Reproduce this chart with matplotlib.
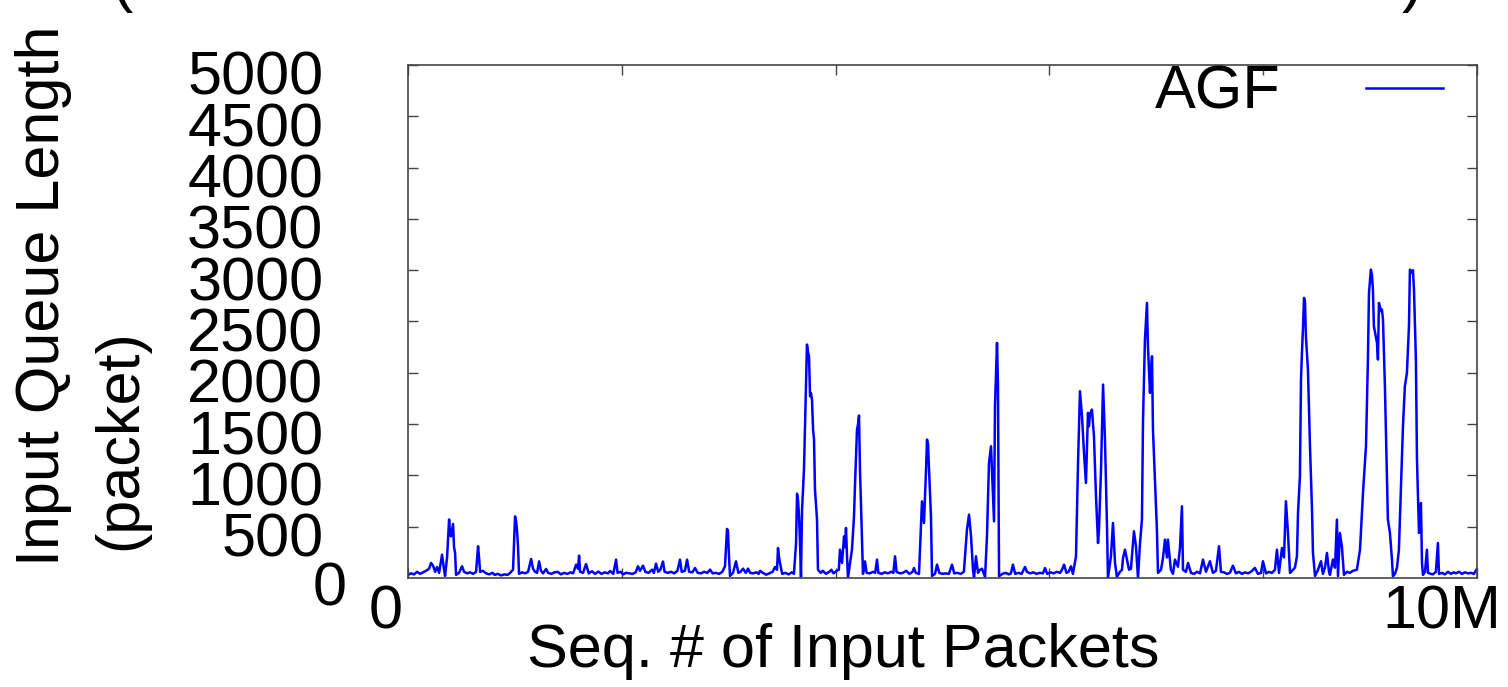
import matplotlib.pyplot as plt
from matplotlib.ticker import MultipleLocator
from matplotlib.transforms import ScaledTranslation

# sequence number of the input packet (millions) and input queue length (packets)
seq_m = [
    0.000, 0.028, 0.056, 0.084, 0.112, 0.140, 0.168, 0.196, 0.215, 0.234, 0.253, 0.271, 0.290,
    0.318, 0.337, 0.346, 0.365, 0.384, 0.393, 0.402, 0.421, 0.430, 0.440, 0.449, 0.477, 0.505,
    0.524, 0.552, 0.580, 0.608, 0.636, 0.655, 0.664, 0.674, 0.700, 0.730, 0.760, 0.790, 0.810,
    0.840, 0.870, 0.900, 0.930, 0.950, 0.982, 1.001, 1.010, 1.020, 1.029, 1.038, 1.066, 1.095,
    1.123, 1.151, 1.169, 1.188, 1.207, 1.226, 1.244, 1.263, 1.291, 1.310, 1.340, 1.370, 1.400,
    1.430, 1.460, 1.490, 1.520, 1.544, 1.572, 1.590, 1.600, 1.609, 1.637,
    1.665, 1.690, 1.721, 1.750, 1.780, 1.810, 1.840, 1.870, 1.890, 1.920, 1.946, 1.960, 1.990,
    2.010, 2.040, 2.070, 2.100, 2.130, 2.151, 2.170, 2.198, 2.220, 2.250, 2.283, 2.300, 2.320,
    2.340, 2.360, 2.385, 2.400, 2.430, 2.460, 2.490, 2.520, 2.544, 2.560, 2.590, 2.610, 2.630,
    2.660, 2.685, 2.710, 2.740, 2.770, 2.800, 2.825, 2.850, 2.880, 2.910, 2.940, 2.965, 2.975,
    2.984, 2.993, 3.003, 3.012, 3.040, 3.068, 3.090, 3.110, 3.134, 3.160, 3.181, 3.200, 3.230,
    3.260, 3.280, 3.293, 3.320,
    3.350, 3.380, 3.410, 3.433, 3.452, 3.461, 3.471, 3.480, 3.500, 3.530, 3.560, 3.590, 3.610,
    3.630, 3.639, 3.648, 3.658, 3.667, 3.676, 3.686, 3.704, 3.723, 3.732, 3.742, 3.751, 3.761,
    3.770, 3.779, 3.789, 3.798, 3.807, 3.826, 3.835, 3.860, 3.880, 3.910, 3.940, 3.960, 3.980,
    4.010, 4.030, 4.041, 4.060, 4.079, 4.088, 4.097, 4.107, 4.116, 4.135, 4.153, 4.172, 4.181,
    4.200, 4.210, 4.219, 4.228, 4.247, 4.256, 4.275, 4.290, 4.320, 4.350, 4.370, 4.387, 4.400,
    4.430, 4.460, 4.490, 4.520, 4.540, 4.556, 4.570, 4.600, 4.630, 4.660, 4.690, 4.720, 4.733,
    4.750, 4.780, 4.808, 4.827, 4.846, 4.855, 4.865, 4.874, 4.892, 4.902, 4.930, 4.949, 4.970,
    5.000,
    5.030, 5.060, 5.089, 5.110, 5.140, 5.170, 5.200, 5.229, 5.248, 5.267, 5.285, 5.295, 5.313,
    5.332, 5.351, 5.370, 5.398, 5.416, 5.435, 5.454, 5.463, 5.482, 5.491, 5.510, 5.519, 5.529,
    5.560, 5.590, 5.620, 5.640, 5.659, 5.680, 5.710, 5.740, 5.772, 5.790, 5.820, 5.850, 5.880,
    5.910, 5.940, 5.959, 5.980, 6.010, 6.040, 6.070, 6.100, 6.118, 6.137, 6.160, 6.180, 6.202,
    6.220, 6.249, 6.268, 6.286, 6.305, 6.324, 6.342, 6.361, 6.370, 6.380, 6.398, 6.417, 6.436,
    6.455, 6.464, 6.483, 6.502, 6.520, 6.539, 6.548, 6.576, 6.595, 6.614, 6.632, 6.660, 6.679,
    6.689,
    6.707, 6.726, 6.745, 6.763, 6.791, 6.810, 6.829, 6.848, 6.866, 6.876, 6.894, 6.913, 6.922,
    6.941, 6.950, 6.960, 6.969, 6.988, 7.006, 7.016, 7.044, 7.063, 7.081, 7.100, 7.109, 7.137,
    7.156, 7.175, 7.203, 7.222, 7.240, 7.250, 7.278, 7.297, 7.325, 7.353, 7.381, 7.409, 7.437,
    7.465, 7.502, 7.530, 7.558, 7.587, 7.605, 7.633, 7.661, 7.689, 7.717, 7.745, 7.773, 7.802,
    7.830, 7.858, 7.886, 7.923, 7.951, 7.980, 7.998, 8.026, 8.054, 8.082, 8.110, 8.129, 8.148,
    8.176, 8.195, 8.213, 8.232, 8.251, 8.279, 8.297, 8.316, 8.326, 8.344, 8.354, 8.363, 8.372,
    8.382, 8.391, 8.400, 8.419, 8.438, 8.457, 8.466, 8.485,
    8.513, 8.541, 8.559, 8.578, 8.597, 8.616, 8.625, 8.653, 8.672, 8.690, 8.700, 8.718, 8.737,
    8.756, 8.784, 8.812, 8.840, 8.877, 8.906, 8.934, 8.962, 8.980, 8.990, 9.008, 9.018, 9.027,
    9.036, 9.055, 9.065, 9.074, 9.083, 9.102, 9.111, 9.121, 9.139, 9.158, 9.167, 9.186, 9.205,
    9.214, 9.233, 9.252, 9.270, 9.289, 9.308, 9.326, 9.345, 9.364, 9.373, 9.392, 9.401, 9.411,
    9.429, 9.439, 9.458, 9.476, 9.486, 9.495, 9.514, 9.532, 9.542, 9.570, 9.588, 9.616, 9.635,
    9.645, 9.673, 9.701, 9.729, 9.757, 9.785, 9.804, 9.832, 9.860, 9.888, 9.916, 9.944, 9.972,
    10.000,
]
queue_len = [
    30, 45, 35, 60, 40, 55, 70, 90, 146, 120, 60, 107, 50,
    227, 80, 20, 200, 570, 420, 406, 527, 300, 244, 30, 50, 114,
    60, 45, 55, 40, 60, 309, 200, 60, 70, 45, 35, 50, 30,
    40, 25, 35, 30, 45, 80, 600, 560, 455, 300, 40, 55, 45,
    60, 185, 90, 60, 50, 162, 70, 45, 88, 50, 40, 55, 60,
    35, 50, 40, 55, 45, 130, 90, 218, 60, 50,
    136, 45, 65, 40, 62, 40, 55, 45, 68, 40, 179, 50, 60,
    35, 50, 45, 40, 55, 114, 70, 120, 60, 50, 81, 50, 140,
    60, 80, 160, 60, 50, 60, 45, 70, 179, 60, 70, 179, 60,
    55, 97, 50, 45, 60, 50, 81, 45, 50, 40, 60, 114, 300,
    478, 455, 200, 20, 50, 162, 50, 60, 91, 50, 91, 50, 45,
    55, 40, 70, 50,
    32, 45, 60, 107, 80, 292, 200, 146, 40, 50, 35, 55, 40,
    341, 822, 763, 600, 341, 10, 666, 1056, 1869, 2275, 2200, 2161, 1771,
    1800, 1739, 1446, 1349, 861, 569, 81, 50, 70, 40, 60, 80, 45,
    70, 80, 276, 146, 406, 300, 488, 200, 0, 146, 276, 600, 894,
    1446, 1500, 1583, 1056, 341, 40, 162, 50, 45, 60, 50, 179, 50,
    40, 55, 45, 60, 50, 211, 60, 45, 50, 70, 40, 60, 97,
    50, 40, 747, 536, 1056, 1349, 1300, 1056, 601, 20, 40, 130, 50,
    40,
    45, 40, 130, 45, 50, 40, 60, 471, 617, 406, 81, 0, 211,
    50, 80, 90, 10, 406, 1121, 1284, 1056, 552, 1674, 2291, 1869, 16,
    40, 50, 35, 45, 130, 40, 50, 40, 107, 60, 45, 55, 40,
    50, 45, 97, 40, 55, 45, 60, 50, 80, 130, 50, 60, 114,
    40, 211, 1121, 1820, 1576, 1219, 926, 1609, 1479, 1600, 1641, 1381, 796,
    341, 471, 1056, 1885, 1349, 504, 0, 211, 536, 146, 10, 60, 80,
    195,
    276, 180, 80, 90, 455, 309, 0, 341, 569, 1544, 2324, 2681, 2259,
    1804, 2000, 2161, 1446, 959, 471, 49, 80, 195, 374, 200, 374, 80,
    40, 179, 110, 300, 699, 80, 60, 146, 50, 40, 60, 45, 179,
    60, 163, 50, 70, 309, 60, 55, 40, 50, 120, 45, 60, 40,
    55, 45, 60, 98, 40, 50, 163, 45, 60, 49, 80, 276, 49,
    292, 200, 748, 439, 49, 80, 100, 211, 634, 991, 1934, 2200, 2421,
    2730, 2700, 2356, 2031, 1284, 666, 244, 20,
    80, 163, 40, 100, 244, 60, 30, 180, 100, 569, 20, 439, 300,
    30, 60, 50, 70, 80, 276, 829, 1284, 2129, 2779, 3006, 2950, 2811,
    2454, 2350, 2291, 2129, 2681, 2600, 2616, 2519, 1869, 991, 569, 439, 179,
    16, 40, 100, 276, 894, 1479, 1869, 1999, 2454, 3006, 2974, 3000, 2811,
    2129, 1154, 439, 731, 146, 30, 60, 276, 50, 40, 35, 60, 341,
    40, 50, 35, 60, 40, 55, 45, 60, 40, 55, 45, 50, 40,
    90,
]
y_ticks = [500, 1000, 1500, 2000, 2500, 3000, 3500, 4000, 4500, 5000]

plt.rcParams['font.family'] = ['Liberation Sans', 'DejaVu Sans']
FS = 44

fig = plt.figure(figsize=(15.08, 6.87), dpi=100)
ax = fig.add_axes([0.2706, 0.1587, 0.7088, 0.7467])

ax.plot(seq_m, queue_len, color='#0000ff', lw=1.8, label='AGF')

ax.set_xlim(0, 10)
ax.set_ylim(0, 5000)
ax.xaxis.set_major_locator(MultipleLocator(2))
ax.set_xticklabels([])
ax.set_yticks(y_ticks)
ax.set_yticklabels([str(v) for v in y_ticks], fontsize=FS)
ax.tick_params(direction='in', length=7, width=1, color='#444444',
               top=True, right=True)
ax.tick_params(axis='y', pad=61)
# labels sit a little below their ticks, as in gnuplot output
shift = ScaledTranslation(0, -0.08, fig.dpi_scale_trans)
for lbl in ax.get_yticklabels():
    lbl.set_transform(lbl.get_transform() + shift)
for s in ax.spines.values():
    s.set_color('#444444')
    s.set_linewidth(1.2)

fig.text(386 / 1508, 1 - 613 / 687, '0', fontsize=FS, ha='center', va='center')
fig.text(1442 / 1508, 1 - 613 / 687, '10M', fontsize=FS, ha='center', va='center')
fig.text(330 / 1508, 1 - 590 / 687, '0', fontsize=FS, ha='center', va='center')

fig.text(843 / 1508, 1 - 652 / 687, 'Seq. # of Input Packets', fontsize=FS,
         ha='center', va='center')
fig.text(44 / 1508, 1 - 566 / 687, 'Input Queue Length', fontsize=FS,
         rotation=90, ha='center', va='bottom')
fig.text(121 / 1508, 1 - 550 / 687, '(packet)', fontsize=FS,
         rotation=90, ha='center', va='bottom')

# title cut off at the top of the picture
fig.text(112 / 1508, 1.0, '(', fontsize=46, ha='left', va='baseline')
fig.text(1402 / 1508, 1.0, ')', fontsize=46, ha='left', va='baseline')

ax.legend(loc='upper right', bbox_to_anchor=(0.968, 1.0), fontsize=FS,
          frameon=False, markerfirst=False, handlelength=1.25,
          handletextpad=1.4, borderaxespad=0.0, borderpad=0.0)

fig.savefig('out.png', dpi=100)
